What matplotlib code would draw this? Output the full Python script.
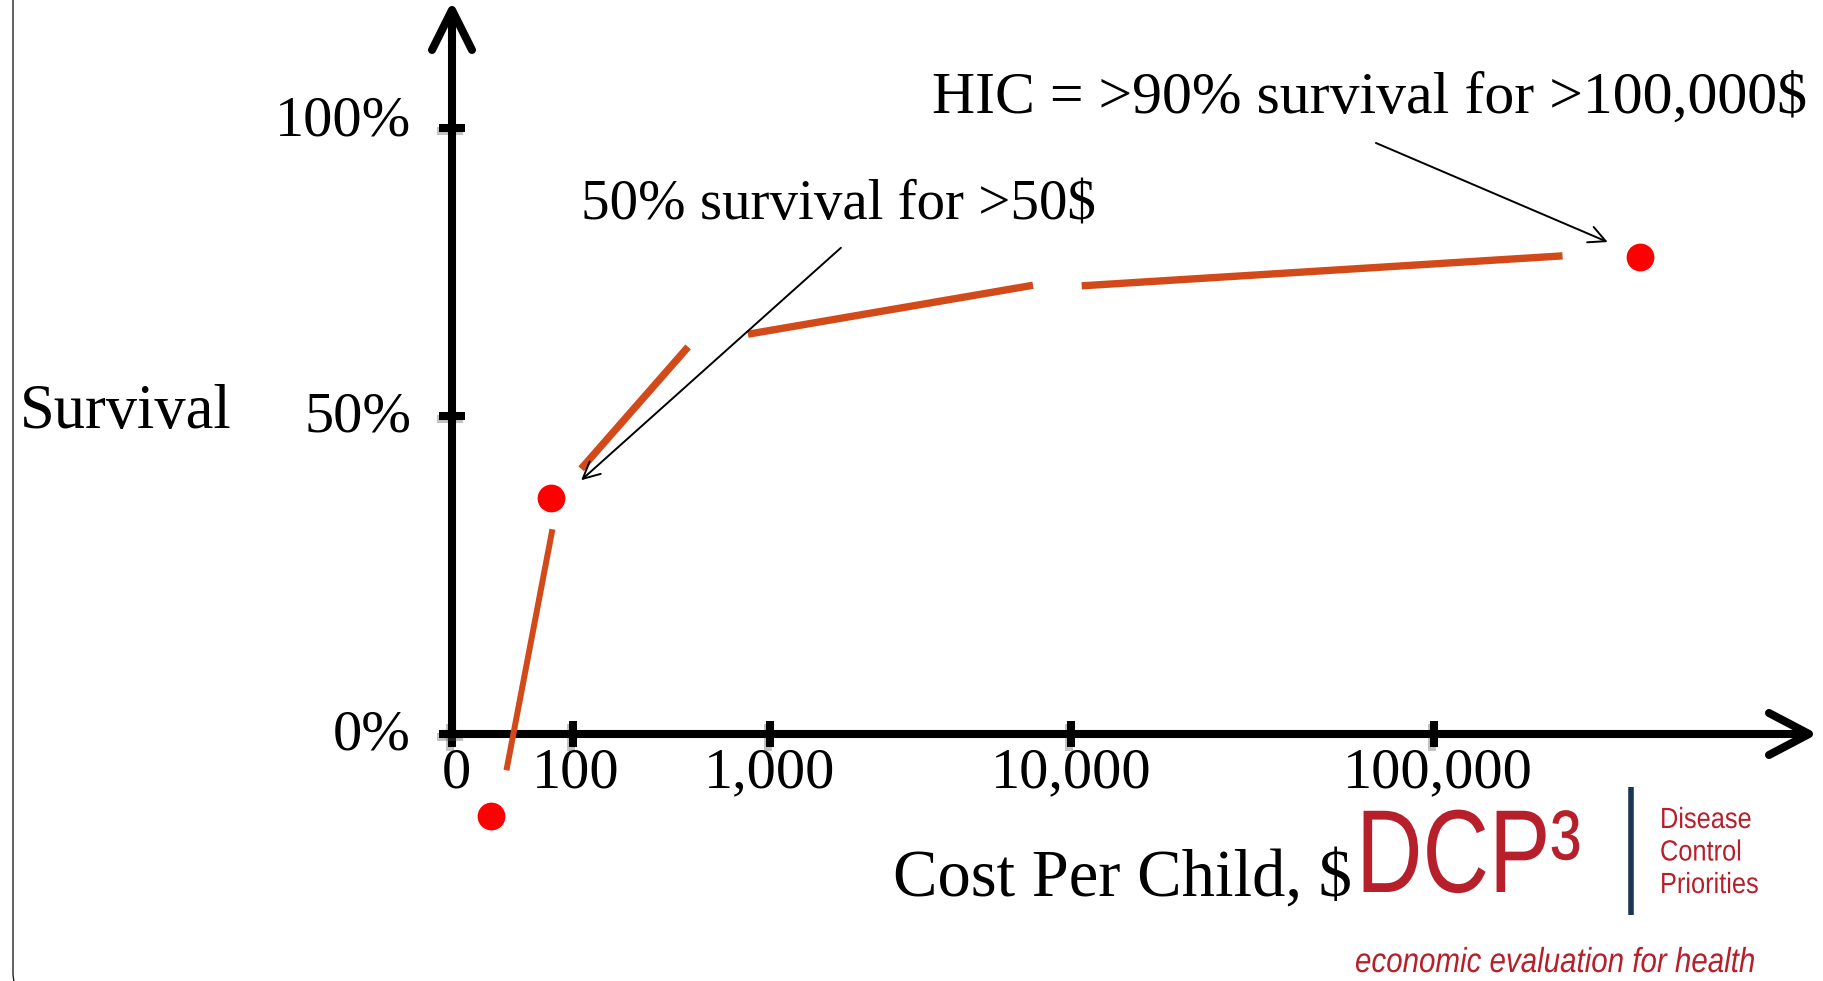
import numpy as np
import matplotlib
matplotlib.use('Agg')
import matplotlib.pyplot as plt
import matplotlib.patheffects as pe
from matplotlib.patches import FancyBboxPatch
from matplotlib.transforms import IdentityTransform, Affine2D, ScaledTranslation

# axis ticks
cost_ticks = [0, 100, 1000, 10000, 100000]
cost_labels = ['0', '100', '1,000', '10,000', '100,000']
surv_ticks = [0, 50, 100]
surv_labels = ['0%', '50%', '100%']

# red survival points (cost per child $, survival %)
dot_cost = [32, 82, 369000]
dot_surv = [-12.9, 37.1, 77.6]

# hand-drawn curve, drawn as separate strokes (start, end)
seg_cost = [(45, 83), (110, 384), (773, 7480), (10700, 226000)]
seg_surv = [(-5.7, 32.2), (41.7, 62.0), (64.2, 72.7), (72.6, 77.8)]
seg_lw = [4.3, 5.3, 5.3, 5.3]

# callout arrows: (tail cost, tail surv) -> (head cost, head surv)
arrow_tail = [(1720, 79.2), (69200, 97.4)]
arrow_head = [(110, 39.9), (301000, 80.2)]

W, H = 1824, 981
SERIF = 'Liberation Serif'
LOGO = 'Liberation Sans'
ORANGE = '#D24A1A'
LOGO_RED = '#B71F2B'

# room (px) given to each tick interval, the axis is not to scale
x_room = np.array([0, 121, 318, 619, 982], float)
y_room = np.array([0, 318, 606], float)
steps = np.arange(5.0)


def piecewise(v, knots, room):
    v = np.asarray(v, float)
    knots = np.asarray(knots, float)
    out = np.interp(v, knots, room)
    lo = (room[1] - room[0]) / (knots[1] - knots[0])
    hi = (room[-1] - room[-2]) / (knots[-1] - knots[-2])
    out = np.where(v < knots[0], room[0] + (v - knots[0]) * lo, out)
    out = np.where(v > knots[-1], room[-1] + (v - knots[-1]) * hi, out)
    return out


def cost_to_step(x):
    x = np.asarray(x, float)
    return np.where(x <= 100, x / 100, 1 + np.log10(np.maximum(x, 100) / 100))


def step_to_cost(s):
    s = np.asarray(s, float)
    return np.where(s <= 1, s * 100, 100 * 10 ** (np.maximum(s, 1) - 1))


x_fwd = lambda x: piecewise(cost_to_step(x), steps, x_room)
x_inv = lambda p: step_to_cost(piecewise(p, x_room, steps))
y_fwd = lambda y: piecewise(y, surv_ticks, y_room)
y_inv = lambda p: piecewise(p, y_room, surv_ticks)


class Squish(pe.AbstractPathEffect):
    """Narrow the glyphs horizontally around the text origin."""

    def __init__(self, sx):
        super().__init__()
        self.sx = sx

    def draw_path(self, renderer, gc, tpath, affine, rgbFace=None):
        x0 = affine.transform_point((0, 0))[0]
        t = affine + Affine2D().translate(-x0, 0).scale(self.sx, 1).translate(x0, 0)
        renderer.draw_path(gc, tpath, t, rgbFace)


def fpos(x, y):
    return x / W, 1 - y / H


fig = plt.figure(figsize=(W / 100, H / 100), dpi=100)
fig.patch.set_facecolor('white')

# slide frame
frame = FancyBboxPatch((13, -14), 3000, 3000, boxstyle='round,pad=0,rounding_size=22',
                       transform=IdentityTransform(), fill=False, lw=1.0, ec='#222222')
fig.add_artist(frame)

ax_w, ax_h = 1357, 724
ax = fig.add_axes([452 / W, (H - 734) / H, ax_w / W, ax_h / H])
ax.set_xscale('function', functions=(x_fwd, x_inv))
ax.set_yscale('function', functions=(y_fwd, y_inv))
ax.set_xlim(0, float(x_inv(ax_w)))
ax.set_ylim(0, float(y_inv(ax_h)))
ax.patch.set_alpha(0)
for s in ax.spines.values():
    s.set_visible(False)

ax.set_xticks(cost_ticks)
ax.set_xticklabels(cost_labels)
ax.set_yticks(surv_ticks)
ax.set_yticklabels(surv_labels)
ax.minorticks_off()
ax.tick_params(axis='both', direction='inout', length=19, width=5.8, color='black')
ax.tick_params(axis='x', pad=0, labelsize=42)
ax.tick_params(axis='y', pad=20, labelsize=42)
for lab in ax.get_xticklabels() + ax.get_yticklabels():
    lab.set_fontfamily(SERIF)
# the percent labels sit a little above their ticks
for lab, up in zip(ax.get_yticklabels(), [5, 5, 12]):
    lab.set_transform(lab.get_transform() + ScaledTranslation(0, up / 100, fig.dpi_scale_trans))
for lab, right in zip(ax.get_xticklabels(), [4, 3, 0, 0, 4]):
    lab.set_transform(lab.get_transform() + ScaledTranslation(right / 100, 0, fig.dpi_scale_trans))
shadow = [pe.SimpleLineShadow(offset=(-1.5, -2.5), shadow_color='#555555', alpha=0.35), pe.Normal()]
for t in ax.get_xticklines() + ax.get_yticklines():
    t.set_path_effects(shadow)

# axis lines with open arrow heads
axis_lw = 5.8
ta = ax.transAxes
ax.plot([0, 0], [-4 / ax_h, 1], color='black', lw=axis_lw, transform=ta, clip_on=False,
        solid_capstyle='butt', zorder=3)
ax.plot([-10 / ax_w, 1], [0, 0], color='black', lw=axis_lw, transform=ta, clip_on=False,
        solid_capstyle='butt', zorder=3)
ax.plot([-20 / ax_w, 0, 20 / ax_w], [1 - 40 / ax_h, 1, 1 - 40 / ax_h], color='black',
        lw=axis_lw, transform=ta, clip_on=False, solid_capstyle='round',
        solid_joinstyle='round', zorder=3)
ax.plot([1 - 40 / ax_w, 1, 1 - 40 / ax_w], [21 / ax_h, 0, -21 / ax_h], color='black',
        lw=axis_lw, transform=ta, clip_on=False, solid_capstyle='round',
        solid_joinstyle='round', zorder=3)

# curve strokes and points
for (c0, c1), (s0, s1), lw in zip(seg_cost, seg_surv, seg_lw):
    ax.plot([c0, c1], [s0, s1], color=ORANGE, lw=lw, solid_capstyle='butt',
            clip_on=False, zorder=4)
ax.plot(dot_cost, dot_surv, 'o', color='#FF0000', ms=20, mec='none', clip_on=False, zorder=5)

for (tc, ts), (hc, hs) in zip(arrow_tail, arrow_head):
    ax.annotate('', xy=(hc, hs), xytext=(tc, ts),
                arrowprops=dict(arrowstyle='->', color='black', lw=1.4,
                                mutation_scale=30, shrinkA=0, shrinkB=0),
                annotation_clip=False, zorder=5)

# labels
fig.text(*fpos(1370, 113), 'HIC = >90% survival for >100,000$', family=SERIF, fontsize=43,
         ha='center', va='baseline')
fig.text(*fpos(838, 219), '50% survival for >50$', family=SERIF, fontsize=41,
         ha='center', va='baseline')
fig.text(*fpos(20, 428), 'Survival', family=SERIF, fontsize=45, ha='left', va='baseline')
fig.text(*fpos(1352, 896), 'Cost Per Child, $', family=SERIF, fontsize=48,
         ha='right', va='baseline')

# DCP3 logo
fig.text(*fpos(1356, 892), 'DCP\u00b3', family=LOGO, fontsize=85, color=LOGO_RED,
         ha='left', va='baseline', path_effects=[Squish(0.78)])
fig.add_artist(plt.Line2D([1631 / W, 1631 / W], [1 - 787 / H, 1 - 915 / H], color='#1B3555',
                          lw=4, solid_capstyle='butt'))
for i, word in enumerate(['Disease', 'Control', 'Priorities']):
    fig.text(*fpos(1660, 828 + 32.5 * i), word, family=LOGO, fontsize=21, color=LOGO_RED,
             ha='left', va='baseline', path_effects=[Squish(0.87)])
fig.text(*fpos(1355, 972), 'economic evaluation for health', family=LOGO, fontsize=25,
         color=LOGO_RED, style='italic', ha='left', va='baseline',
         path_effects=[Squish(0.85)])

fig.savefig('out.png', dpi=100)
